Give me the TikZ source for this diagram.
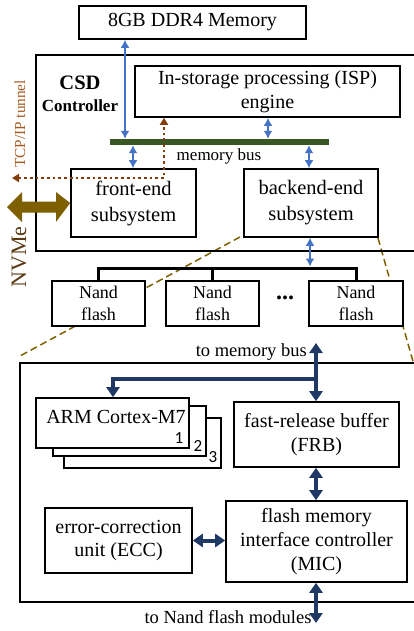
\documentclass[tikz,border=0pt]{standalone}
\usepackage{fontspec}
\setmainfont{Liberation Serif}
\newfontfamily\numfont{Carlito}
\usetikzlibrary{arrows.meta}
\definecolor{bluearr}{HTML}{4472C4}
\definecolor{busgreen}{HTML}{385723}
\definecolor{navy}{HTML}{203864}
\definecolor{tcpbrown}{HTML}{843C0C}
\definecolor{tcptext}{HTML}{A65B25}
\definecolor{olive}{HTML}{7F6000}
\definecolor{nvmetext}{HTML}{5C3A13}
\tikzset{
  box/.style={draw=black, line width=1.6pt, fill=white, inner sep=0pt, align=center,
    font=\fontsize{20}{23.5}\selectfont},
  frame/.style={draw=black, line width=1.5pt, inner sep=0pt},
  bluea/.style={draw=bluearr, line width=2pt, {Latex[length=8pt,width=9pt]}-{Latex[length=8pt,width=9pt]}},
  navya/.style={draw=navy, line width=4pt, {Triangle[length=10pt,width=13pt]}-{Triangle[length=10pt,width=13pt]}},
  navyone/.style={draw=navy, line width=4pt, -{Triangle[length=10pt,width=13pt]}},
  tcpline/.style={draw=tcpbrown, line width=2.7pt, dash pattern=on 2.7pt off 3pt,
    {Triangle[length=7pt,width=8pt]}-{Triangle[length=7pt,width=8pt]}},
  zoomline/.style={draw=olive, line width=1.5pt, dash pattern=on 7pt off 4pt},
  lbl/.style={inner sep=0pt},
}
\begin{document}
\begin{tikzpicture}[x=1pt,y=-1pt]
\useasboundingbox (0,0) rectangle (414,631);
\clip (0,0) rectangle (414,631);

% zoom lines (behind boxes)
\coordinate (zl) at (20,356);
\coordinate (zr) at (414,365);
\coordinate (zls) at (240,237);
\coordinate (zrs) at (378,238);
\draw[zoomline] (zls) -- (zl);
\draw[zoomline] (zrs) -- (zr);

% CSD frame
\node[frame, minimum width=384pt, minimum height=196pt] (csd) at (228,153) {};
\node[box] (ddr) at (192.5,22.5) [minimum width=227pt, minimum height=33pt] {8GB DDR4 Memory};
\node[lbl, font=\bfseries\fontsize{20.5}{22}\selectfont] (csdt) at (80,83) {CSD};
\node[lbl, font=\bfseries\fontsize{17}{20}\selectfont] (ctrl) at (80,106) {Controller};
\node[box, minimum width=265pt, minimum height=51pt] (isp) at (267.5,91.5) {In-storage processing (ISP)\\engine};
\node[box, minimum width=125pt, minimum height=68pt, font=\fontsize{20.5}{26}\selectfont] (front) at (133.5,203) {front-end\\subsystem};
\node[box, minimum width=134pt, minimum height=68pt, font=\fontsize{20.5}{26}\selectfont] (back) at (311,203) {backend-end\\subsystem};

% memory bus
\node[fill=busgreen, minimum width=219pt, minimum height=6pt, inner sep=0pt] (bus) at (219.5,142) {};
\node[lbl, font=\fontsize{17}{20}\selectfont] (busl) at (219,156) {memory bus};

% blue arrows
\draw[bluea] (ddr.south -| 125,0) -- (bus.north -| 125,0);
\draw[bluea] (isp.south -| 268,0) -- (bus.north -| 268,0);
\draw[bluea] (bus.south -| 133,0) -- (front.north -| 133,0);
\draw[bluea] (bus.south -| 309,0) -- (back.north -| 309,0);

% TCP/IP tunnel
\coordinate (tcpend) at (12,178);
\draw[tcpline] (tcpend) -- (164,178) -- (isp.south -| 164,0);
\node[lbl, rotate=90, text=tcptext, font=\fontsize{15.3}{18}\selectfont] (tcpl) at (20,124) {TCP/IP tunnel};

% NVMe arrow
\fill[olive] (7,207) -- (22,192) -- (22,201.5) -- (56,201.5) -- (56,192) -- (front.west) -- (56,222) -- (56,212.5) -- (22,212.5) -- (22,222) -- cycle;
\node[lbl, rotate=90, text=nvmetext, font=\fontsize{22}{24}\selectfont] (nvmel) at (19,257) {NVMe};

% Nand flash
\node[box, minimum width=93pt, minimum height=45pt, font=\fontsize{18}{22}\selectfont] (n1) at (98.5,303.5) {Nand\\flash};
\node[box, minimum width=93pt, minimum height=45pt, font=\fontsize{18}{22}\selectfont] (n2) at (212.5,303.5) {Nand\\flash};
\node[box, minimum width=94pt, minimum height=45pt, font=\fontsize{18}{22}\selectfont] (n3) at (356,303.5) {Nand\\flash};
\node[lbl, font=\bfseries\fontsize{24}{24}\selectfont] (dots) at (285,298) {...};
\coordinate (nb) at (310,268);
\draw[line width=3pt] (n1.north) -- (n1.north |- nb) -- (n3.north |- nb) -- (n3.north);
\draw[line width=3pt] (n2.north) -- (n2.north |- nb);
\draw[bluea] (back.south -| 310,0) -- (310,266.5);

% detail frame
\node[frame, minimum width=400pt, minimum height=239pt] (det) at (220,482.5) {};

\node[box, minimum width=157pt, minimum height=50pt] (arm3) at (142.5,443) {};
\node[box, minimum width=153pt, minimum height=50pt] (arm2) at (129.5,431) {};
\node[box, minimum width=153pt, minimum height=50pt] (arm1) at (112.5,423) {};
\node[lbl, font=\fontsize{20}{22}\selectfont] (armt) at (116,417) {ARM Cortex-M7};
\node[lbl, font=\numfont\fontsize{17}{18}\selectfont] (c1) at (179,438) {1};
\node[lbl, font=\numfont\fontsize{17}{18}\selectfont] (c2) at (198,446) {2};
\node[lbl, font=\numfont\fontsize{17}{18}\selectfont] (c3) at (213,457) {3};

\node[box, minimum width=165pt, minimum height=65pt] (frb) at (316.5,434.5) {fast-release buffer\\(FRB)};
\node[box, minimum width=147pt, minimum height=65pt] (ecc) at (118.5,540.5) {error-correction\\unit (ECC)};
\node[box, minimum width=181pt, minimum height=81pt, font=\fontsize{20}{24}\selectfont] (mic) at (316.5,541.5) {flash memory\\interface controller\\(MIC)};

% navy arrows
\coordinate (topend) at (316,343);
\coordinate (botend) at (316,623);
\coordinate (junc) at (316,379);
\draw[navya] (topend) -- (frb.north -| topend);
\draw[navyone] (junc) -- (113,379) -- (arm1.north -| 113,0);
\draw[navya] (frb.south -| topend) -- (mic.north -| topend);
\draw[navya] (ecc.east) -- (mic.west |- ecc.east);
\draw[navya] (mic.south -| topend) -- (botend);

\node[lbl, anchor=east, font=\fontsize{18.5}{20}\selectfont] (tomb) at (307,352) {to memory bus};
\node[lbl, font=\fontsize{18.5}{20}\selectfont] (tonf) at (228,617) {to Nand flash modules};
\end{tikzpicture}
\end{document}
